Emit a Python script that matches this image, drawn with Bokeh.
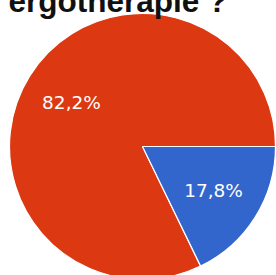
import math
from bokeh.plotting import figure
from bokeh.models import Range1d, ColumnDataSource
from bokeh.core.properties import value
from bokeh.embed import file_html
from bokeh.resources import INLINE

# Data
categories = ["Oui", "Non"]
percents = [82.2, 17.8]
labels = ["82,2%", "17,8%"]
colors = ["#DC3912", "#3366CC"]
title_text = "ergothérapie ?"

W, H = 276, 275
OFF = 4
cx, cy, r = 142, 129, 133

total = sum(percents)
starts, ends, lx, ly = [], [], [], []
acc = 0.0
for v in percents:
    a0 = 2 * math.pi * acc / total
    acc += v
    a1 = 2 * math.pi * acc / total
    starts.append(a0)
    ends.append(a1)
    mid = (a0 + a1) / 2
    lx.append(cx + 0.63 * r * math.cos(mid))
    ly.append(cy + 0.63 * r * math.sin(mid))

src = ColumnDataSource(dict(cat=categories, start=starts, end=ends, color=colors,
                            lx=lx, ly=ly, label=labels))

p = figure(width=W + OFF, height=H + OFF, x_range=Range1d(-OFF, W),
           y_range=Range1d(0, H + OFF),
           output_backend="svg", toolbar_location=None, min_border=0,
           margin=(-OFF, -OFF, -OFF, -OFF))
p.axis.visible = False
p.grid.visible = False
p.outline_line_color = None
p.background_fill_color = "white"
p.border_fill_color = "white"

p.wedge(x=cx, y=cy, radius=r, start_angle="start", end_angle="end",
        fill_color="color", line_color="white", line_width=1.2, source=src)

p.text(x="lx", y="ly", text="label", source=src, text_color="white",
       text_font=value("DejaVu Sans"), text_font_size="18.5px",
       text_align="center", text_baseline="middle")

p.text(x=[8], y=[H], text=[title_text], text_color="#111111",
       text_font=value("Liberation Sans"), text_font_style="bold",
       text_font_size="31.5px", text_align="left", text_baseline="alphabetic")

open("out.html", "w").write(file_html(p, INLINE))
